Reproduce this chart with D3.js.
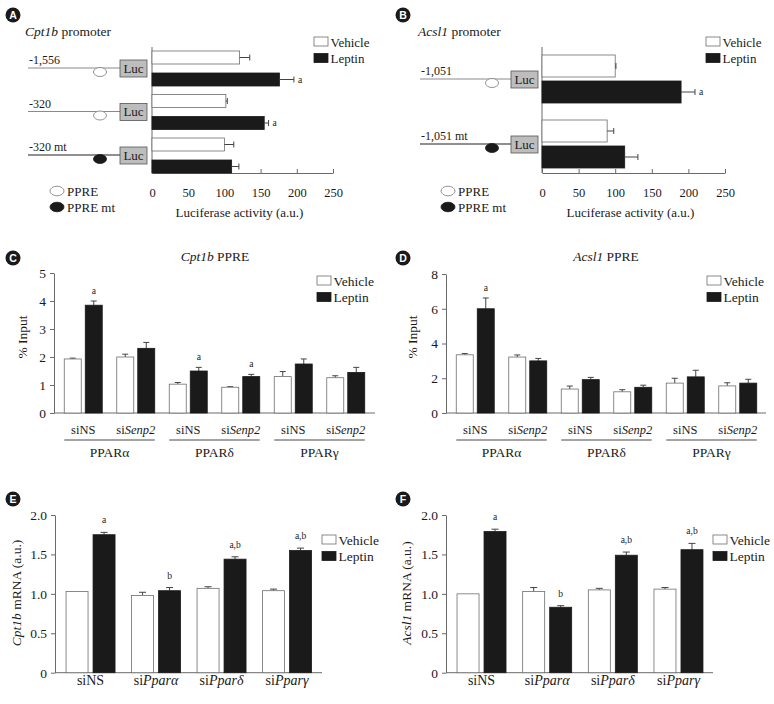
<!DOCTYPE html>
<html><head><meta charset="utf-8">
<script src="https://cdn.jsdelivr.net/npm/d3@7"></script>
<style>
body{margin:0;background:#fff}
text{font-family:"Liberation Serif","DejaVu Serif",serif;fill:#1a1a1a}
</style>
</head><body>
<svg id="c" width="774" height="704"></svg>
<script>
// ---------- DATA ----------
const series = ["Vehicle", "Leptin"];
const promoterTicks = [0, 50, 100, 150, 200, 250];

// Panel A : Cpt1b promoter
const aConstructs = ["-1,556", "-320", "-320 mt"];
const aSites = ["PPRE", "PPRE", "PPRE mt"];
const aVehicle = [121, 102, 100];
const aVehicleErr = [14, 2, 13];
const aLeptin = [176, 155, 110];
const aLeptinErr = [20, 6, 10];
const aSig = ["a", "a", ""];

// Panel B : Acsl1 promoter
const bConstructs = ["-1,051", "-1,051 mt"];
const bSites = ["PPRE", "PPRE mt"];
const bVehicle = [100, 89];
const bVehicleErr = [1, 9];
const bLeptin = [190, 113];
const bLeptinErr = [19, 18];
const bSig = ["a", ""];

// Panels C, D : ChIP
const chipLabels = ["siNS", "si*Senp2*", "siNS", "si*Senp2*", "siNS", "si*Senp2*"];
const chipGroups = ["PPARα", "PPARδ", "PPARγ"];
const cTicks = [0, 1, 2, 3, 4, 5];
const cVehicle = [1.93, 2.00, 1.03, 0.92, 1.30, 1.26];
const cVehicleErr = [0.03, 0.10, 0.06, 0.02, 0.18, 0.07];
const cLeptin = [3.85, 2.31, 1.50, 1.30, 1.75, 1.45];
const cLeptinErr = [0.15, 0.21, 0.13, 0.08, 0.18, 0.18];
const cSig = ["a", "", "a", "a", "", ""];

const dTicks = [0, 2, 4, 6, 8];
const dVehicle = [3.35, 3.22, 1.38, 1.22, 1.72, 1.56];
const dVehicleErr = [0.07, 0.12, 0.17, 0.12, 0.28, 0.18];
const dLeptin = [6.00, 3.00, 1.92, 1.48, 2.08, 1.72];
const dLeptinErr = [0.62, 0.14, 0.13, 0.12, 0.38, 0.22];
const dSig = ["a", "", "", "", "", ""];

// Panels E, F : mRNA
const mrnaLabels = ["siNS", "si*Pparα*", "si*Pparδ*", "si*Pparγ*"];
const efTicks = [0, 0.5, 1.0, 1.5, 2.0];
const eVehicle = [1.03, 0.98, 1.07, 1.04];
const eVehicleErr = [0, 0.04, 0.02, 0.02];
const eLeptin = [1.75, 1.04, 1.44, 1.55];
const eLeptinErr = [0.03, 0.04, 0.03, 0.03];
const eSig = ["a", "b", "a,b", "a,b"];

const fVehicle = [1.00, 1.03, 1.05, 1.06];
const fVehicleErr = [0, 0.05, 0.02, 0.02];
const fLeptin = [1.79, 0.83, 1.49, 1.56];
const fLeptinErr = [0.03, 0.02, 0.04, 0.08];
const fSig = ["a", "b", "a,b", "a,b"];

// ---------- DRAWING ----------
const svg = d3.select("#c");
const AX = "#6a6a6a", DARK = "#1a1a1a", VSTROKE = "#6e6e6e";
const SERIF = "'Liberation Serif','DejaVu Serif',serif";

function rich(t, s) {
  t.style("font-family", SERIF);
  s.split("*").forEach((p, i) => { if (p) t.append("tspan").attr("font-style", i % 2 ? "italic" : "normal").text(p); });
  return t;
}
function badge(x, y, l) {
  svg.append("circle").attr("cx", x).attr("cy", y).attr("r", 7.5).attr("fill", DARK);
  svg.append("text").attr("x", x).attr("y", y + 3.6).attr("text-anchor", "middle")
    .style("font-family", "'Liberation Sans',Arial,sans-serif").style("font-weight", "bold")
    .style("font-size", "10.5px").style("fill", "#fff").text(l);
}
function legend(x, y, fs) {
  series.forEach((s, i) => {
    svg.append("rect").attr("x", x).attr("y", y + i * 16.5).attr("width", 14).attr("height", 9)
      .attr("fill", i ? DARK : "#fff").attr("stroke", i ? DARK : VSTROKE).attr("stroke-width", 0.8);
    svg.append("text").attr("x", x + 16.5).attr("y", y + 9.5 + i * 16.5).style("font-family", SERIF)
      .style("font-size", fs + "px").text(s);
  });
}

function hPanel(o) {
  const x = d3.scaleLinear().domain([0, 250]).range([o.x0, o.x1]);
  const y = d3.scaleBand().domain(d3.range(o.names.length)).range([o.gy0, o.gy0 + o.step * o.names.length]);
  const g = svg.append("g");
  const xa = g.append("g").attr("transform", `translate(0,${o.yb})`)
    .call(d3.axisBottom(x).tickValues(promoterTicks).tickSize(-4).tickSizeOuter(0).tickPadding(15));
  xa.select(".domain").attr("stroke", AX);
  xa.selectAll(".tick line").attr("stroke", AX);
  xa.selectAll(".tick text").style("font-family", SERIF).style("font-size", "12.5px").attr("fill", DARK);
  g.append("line").attr("x1", o.x0).attr("x2", o.x0).attr("y1", o.yt).attr("y2", o.yb).attr("stroke", AX);
  g.append("text").attr("x", (o.x0 + o.x1) / 2 - 3).attr("y", o.yb + 44).attr("text-anchor", "middle")
    .style("font-family", SERIF).style("font-size", "13px").text("Luciferase activity (a.u.)");
  o.names.forEach((n, i) => {
    const gy = y(i);
    [[o.veh, o.vErr, o.vOff, false], [o.lep, o.lErr, o.lOff, true]].forEach(([vals, errs, off, dark]) => {
      const by = gy + off, v = vals[i], e = errs[i];
      g.append("rect").attr("x", x(0)).attr("y", by).attr("width", x(v) - x(0)).attr("height", o.barH)
        .attr("fill", dark ? DARK : "#fff").attr("stroke", dark ? DARK : VSTROKE).attr("stroke-width", 0.8);
      const cy = by + o.barH / 2;
      if (e > 0) {
        g.append("line").attr("x1", x(v)).attr("x2", x(v + e)).attr("y1", cy).attr("y2", cy).attr("stroke", "#444");
        g.append("line").attr("x1", x(v + e)).attr("x2", x(v + e)).attr("y1", cy - 3).attr("y2", cy + 3).attr("stroke", "#444");
      }
      if (dark && o.sig[i]) g.append("text").attr("x", x(v + e) + 4).attr("y", cy + 3)
        .style("font-family", SERIF).style("font-size", "9.5px").text(o.sig[i]);
    });
    const ly = gy + o.lineOff, mt = o.sites[i] === "PPRE mt";
    g.append("line").attr("x1", o.dx0).attr("x2", o.lucX).attr("y1", ly).attr("y2", ly)
      .attr("stroke", mt ? "#222" : "#8a8a8a").attr("stroke-width", 1.2);
    g.append("text").attr("x", o.dx0 + 1).attr("y", ly - 4).style("font-family", SERIF).style("font-size", "12px").text(n);
    g.append("ellipse").attr("cx", o.ellX).attr("cy", ly + 4).attr("rx", 6.5).attr("ry", 4.5)
      .attr("fill", mt ? DARK : "#fff").attr("stroke", mt ? DARK : "#777").attr("stroke-width", 0.8);
    g.append("rect").attr("x", o.lucX).attr("y", ly - 8).attr("width", 27).attr("height", 17)
      .attr("fill", "#bdbdbd").attr("stroke", "#555").attr("stroke-width", 0.8);
    g.append("text").attr("x", o.lucX + 13.5).attr("y", ly + 4.5).attr("text-anchor", "middle")
      .style("font-family", SERIF).style("font-size", "13px").text("Luc");
  });
  ["PPRE", "PPRE mt"].forEach((s, i) => {
    g.append("ellipse").attr("cx", o.slx).attr("cy", 191 + i * 16).attr("rx", 7).attr("ry", 4.8)
      .attr("fill", i ? DARK : "#fff").attr("stroke", i ? DARK : "#777").attr("stroke-width", 0.8);
    g.append("text").attr("x", o.slx + 10).attr("y", 196 + i * 16).style("font-family", SERIF)
      .style("font-size", "13px").text(s);
  });
  rich(svg.append("text").attr("x", o.tx).attr("y", 36).style("font-size", "13.5px"), o.title);
  legend(o.legX, 37, 13);
}

hPanel({ names: aConstructs, sites: aSites, veh: aVehicle, vErr: aVehicleErr, lep: aLeptin, lErr: aLeptinErr, sig: aSig,
  x0: 152, x1: 333, yt: 47, yb: 173, gy0: 47, step: 43.5, vOff: 4, lOff: 26, barH: 13, lineOff: 21,
  dx0: 28, ellX: 100, lucX: 120, slx: 57, tx: 25, title: "*Cpt1b* promoter", legX: 314 });
hPanel({ names: bConstructs, sites: bSites, veh: bVehicle, vErr: bVehicleErr, lep: bLeptin, lErr: bLeptinErr, sig: bSig,
  x0: 542, x1: 725, yt: 47, yb: 173, gy0: 47, step: 65, vOff: 8, lOff: 34, barH: 22, lineOff: 32,
  dx0: 420, ellX: 492, lucX: 511, slx: 448, tx: 418, title: "*Acsl1* promoter", legX: 706 });
badge(13, 15, "A");
badge(403, 15, "B");

function vPanel(o) {
  const g = svg.append("g");
  const y = d3.scaleLinear().domain([0, o.ticks[o.ticks.length - 1]]).range([o.y0, o.y1]);
  const x = d3.scaleBand().domain(d3.range(o.labels.length)).range([o.b0, o.b1]);
  const ya = g.append("g").attr("transform", `translate(${o.ax},0)`)
    .call(d3.axisLeft(y).tickValues(o.ticks).tickSize(4).tickSizeOuter(0).tickPadding(4).tickFormat(o.fmt));
  ya.select(".domain").attr("stroke", AX);
  ya.selectAll(".tick line").attr("stroke", AX);
  ya.selectAll(".tick text").style("font-family", SERIF).style("font-size", o.tickFs + "px").attr("fill", DARK);
  g.append("line").attr("x1", o.ax).attr("x2", o.axEnd).attr("y1", o.y0).attr("y2", o.y0).attr("stroke", AX);
  const c = i => x(i) + x.bandwidth() / 2;
  o.labels.forEach((lab, i) => {
    [[o.veh, o.vErr, false], [o.lep, o.lErr, true]].forEach(([vals, errs, dark]) => {
      const bx = dark ? c(i) + o.gap / 2 : c(i) - o.gap / 2 - o.bw;
      const v = vals[i], e = errs[i], cx = bx + o.bw / 2;
      if (e > 0) {
        g.append("line").attr("x1", cx).attr("x2", cx).attr("y1", y(v)).attr("y2", y(v + e)).attr("stroke", "#444");
        g.append("line").attr("x1", cx - o.cap / 2).attr("x2", cx + o.cap / 2).attr("y1", y(v + e)).attr("y2", y(v + e)).attr("stroke", "#444");
      }
      g.append("rect").attr("x", bx).attr("y", y(v)).attr("width", o.bw).attr("height", y(0) - y(v))
        .attr("fill", dark ? DARK : "#fff").attr("stroke", dark ? DARK : VSTROKE).attr("stroke-width", 0.8);
      if (dark && o.sig[i]) g.append("text").attr("x", cx).attr("y", y(v + e) - o.sigOff).attr("text-anchor", "middle")
        .style("font-family", SERIF).style("font-size", "9.5px").text(o.sig[i]);
    });
    rich(g.append("text").attr("x", c(i)).attr("y", o.labY).attr("text-anchor", "middle").style("font-size", o.labFs + "px"), lab);
  });
  if (o.groups) {
    o.groups.forEach((gn, k) => {
      const i0 = k * 2, i1 = k * 2 + 1;
      const l = c(i0) - o.gap / 2 - o.bw, r = c(i1) + o.gap / 2 + o.bw;
      g.append("line").attr("x1", l).attr("x2", r).attr("y1", o.labY + 6).attr("y2", o.labY + 6).attr("stroke", "#333").attr("stroke-width", 0.9);
      g.append("text").attr("x", (l + r) / 2).attr("y", o.labY + 23).attr("text-anchor", "middle")
        .style("font-family", SERIF).style("font-size", "13.5px").text(gn);
    });
  }
  if (o.title) rich(g.append("text").attr("x", o.titleX).attr("y", 261).attr("text-anchor", "middle").style("font-size", "13.5px"), o.title);
  rich(g.append("text").attr("transform", `translate(${o.ylX},${o.ylY}) rotate(-90)`).attr("text-anchor", "middle")
    .style("font-size", o.ylFs + "px"), o.ylab);
  legend(o.legX, o.legY, 13.5);
}

const intFmt = d => d3.format("d")(d);
const decFmt = d => d === 0 ? "0" : d3.format(".1f")(d);

vPanel({ labels: chipLabels, groups: chipGroups, ticks: cTicks, fmt: intFmt, veh: cVehicle, vErr: cVehicleErr, lep: cLeptin, lErr: cLeptinErr, sig: cSig,
  ax: 54, axEnd: 375, y0: 413, y1: 273, b0: 57, b1: 372, bw: 17, gap: 4, cap: 6, sigOff: 7, tickFs: 13.5,
  labY: 434, labFs: 12.5, title: "*Cpt1b* PPRE", titleX: 215, ylab: "% Input", ylX: 27, ylY: 337, ylFs: 13.5, legX: 317, legY: 276 });
vPanel({ labels: chipLabels, groups: chipGroups, ticks: dTicks, fmt: intFmt, veh: dVehicle, vErr: dVehicleErr, lep: dLeptin, lErr: dLeptinErr, sig: dSig,
  ax: 446, axEnd: 766, y0: 413, y1: 274, b0: 449, b1: 764, bw: 17, gap: 4, cap: 6, sigOff: 7, tickFs: 13.5,
  labY: 434, labFs: 12.5, title: "*Acsl1* PPRE", titleX: 606, ylab: "% Input", ylX: 417, ylY: 337, ylFs: 13.5, legX: 707, legY: 276 });
badge(13, 258, "C");
badge(403, 258, "D");

vPanel({ labels: mrnaLabels, ticks: efTicks, fmt: decFmt, veh: eVehicle, vErr: eVehicleErr, lep: eLeptin, lErr: eLeptinErr, sig: eSig,
  ax: 55, axEnd: 322, y0: 672.7, y1: 515, b0: 57.8, b1: 319.8, bw: 22, gap: 5, cap: 7, sigOff: 9, tickFs: 13.5,
  labY: 685, labFs: 14, ylab: "*Cpt1b* mRNA (a.u.)", ylX: 21, ylY: 593, ylFs: 13.5, legX: 322, legY: 535 });
vPanel({ labels: mrnaLabels, ticks: efTicks, fmt: decFmt, veh: fVehicle, vErr: fVehicleErr, lep: fLeptin, lErr: fLeptinErr, sig: fSig,
  ax: 446, axEnd: 713, y0: 672.7, y1: 515, b0: 448.7, b1: 711.3, bw: 22, gap: 5, cap: 7, sigOff: 9, tickFs: 13.5,
  labY: 685, labFs: 14, ylab: "*Acsl1* mRNA (a.u.)", ylX: 411, ylY: 593, ylFs: 13.5, legX: 713, legY: 535 });
badge(13, 499, "E");
badge(403, 499, "F");
</script>
</body></html>
